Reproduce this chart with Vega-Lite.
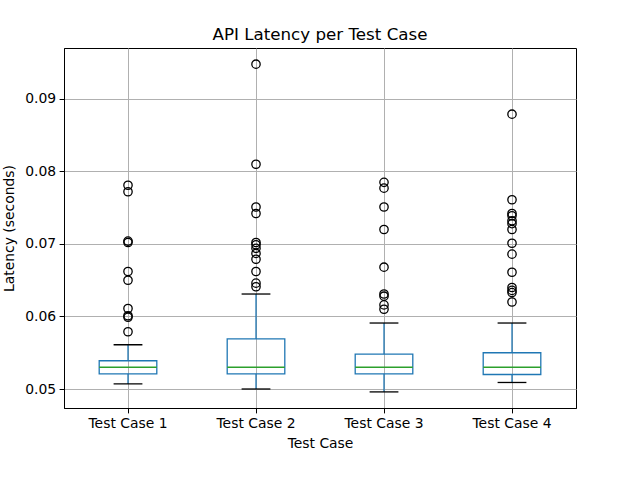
{
  "$schema": "https://vega.github.io/schema/vega-lite/v6.json",
  "width": 512,
  "height": 360,
  "autosize": "none",
  "padding": {"left": 64, "top": 48, "right": 64, "bottom": 72},
  "background": "white",
  "config": {
    "font": "DejaVu Sans",
    "view": {"stroke": "black", "strokeWidth": 1},
    "axis": {
      "labelFont": "DejaVu Sans",
      "labelFontSize": 13.9,
      "labelColor": "black",
      "titleFont": "DejaVu Sans",
      "titleFontSize": 13.9,
      "titleFontWeight": "normal",
      "titleColor": "black",
      "tickColor": "black",
      "tickSize": 4.9,
      "tickWidth": 1,
      "domainColor": "black",
      "domainWidth": 1,
      "gridColor": "#b0b0b0",
      "gridWidth": 1,
      "labelPadding": 3.5
    }
  },
  "title": {
    "text": "API Latency per Test Case",
    "font": "DejaVu Sans",
    "fontSize": 16.7,
    "fontWeight": "normal",
    "color": "black",
    "offset": 4
  },
  "datasets": {
    "boxes": [
      {"case": "Test Case 1", "lower": 0.0507, "q1": 0.0521, "median": 0.0530, "q3": 0.0539, "upper": 0.0561},
      {"case": "Test Case 2", "lower": 0.0500, "q1": 0.0521, "median": 0.0530, "q3": 0.0569, "upper": 0.0631},
      {"case": "Test Case 3", "lower": 0.0496, "q1": 0.0521, "median": 0.0530, "q3": 0.0548, "upper": 0.0591},
      {"case": "Test Case 4", "lower": 0.0509, "q1": 0.0520, "median": 0.0530, "q3": 0.0550, "upper": 0.0591}
    ],
    "outliers": [
      {"case": "Test Case 1", "latency": 0.0781},
      {"case": "Test Case 1", "latency": 0.0772},
      {"case": "Test Case 1", "latency": 0.0704},
      {"case": "Test Case 1", "latency": 0.0702},
      {"case": "Test Case 1", "latency": 0.0662},
      {"case": "Test Case 1", "latency": 0.0650},
      {"case": "Test Case 1", "latency": 0.0611},
      {"case": "Test Case 1", "latency": 0.0601},
      {"case": "Test Case 1", "latency": 0.0599},
      {"case": "Test Case 1", "latency": 0.0579},
      {"case": "Test Case 2", "latency": 0.0948},
      {"case": "Test Case 2", "latency": 0.0810},
      {"case": "Test Case 2", "latency": 0.0751},
      {"case": "Test Case 2", "latency": 0.0742},
      {"case": "Test Case 2", "latency": 0.0702},
      {"case": "Test Case 2", "latency": 0.0699},
      {"case": "Test Case 2", "latency": 0.0694},
      {"case": "Test Case 2", "latency": 0.0687},
      {"case": "Test Case 2", "latency": 0.0679},
      {"case": "Test Case 2", "latency": 0.0662},
      {"case": "Test Case 2", "latency": 0.0646},
      {"case": "Test Case 2", "latency": 0.0641},
      {"case": "Test Case 3", "latency": 0.0785},
      {"case": "Test Case 3", "latency": 0.0777},
      {"case": "Test Case 3", "latency": 0.0751},
      {"case": "Test Case 3", "latency": 0.0720},
      {"case": "Test Case 3", "latency": 0.0668},
      {"case": "Test Case 3", "latency": 0.0631},
      {"case": "Test Case 3", "latency": 0.0628},
      {"case": "Test Case 3", "latency": 0.0616},
      {"case": "Test Case 3", "latency": 0.0610},
      {"case": "Test Case 4", "latency": 0.0879},
      {"case": "Test Case 4", "latency": 0.0761},
      {"case": "Test Case 4", "latency": 0.0742},
      {"case": "Test Case 4", "latency": 0.0739},
      {"case": "Test Case 4", "latency": 0.0732},
      {"case": "Test Case 4", "latency": 0.0728},
      {"case": "Test Case 4", "latency": 0.0720},
      {"case": "Test Case 4", "latency": 0.0701},
      {"case": "Test Case 4", "latency": 0.0686},
      {"case": "Test Case 4", "latency": 0.0661},
      {"case": "Test Case 4", "latency": 0.0640},
      {"case": "Test Case 4", "latency": 0.0636},
      {"case": "Test Case 4", "latency": 0.0633},
      {"case": "Test Case 4", "latency": 0.0620}
    ]
  },
  "layer": [
    {
      "data": {"name": "boxes"},
      "mark": {"type": "rule", "color": "#1f77b4", "strokeWidth": 1.3},
      "encoding": {
        "x": {
          "field": "case", "type": "nominal",
          "scale": {"paddingInner": 0, "paddingOuter": 0},
          "axis": {"title": "Test Case", "labelAngle": 0, "grid": true, "bandPosition": 0.5, "titlePadding": 6}
        },
        "y": {
          "field": "lower", "type": "quantitative",
          "scale": {"domain": [0.04738, 0.09703], "nice": false, "zero": false},
          "axis": {"title": "Latency (seconds)", "values": [0.05, 0.06, 0.07, 0.08, 0.09], "format": ".2f", "grid": true, "titlePadding": 8}
        },
        "y2": {"field": "q1"}
      }
    },
    {
      "data": {"name": "boxes"},
      "mark": {"type": "rule", "color": "#1f77b4", "strokeWidth": 1.3},
      "encoding": {
        "x": {"field": "case", "type": "nominal"},
        "y": {"field": "q3", "type": "quantitative"},
        "y2": {"field": "upper"}
      }
    },
    {
      "data": {"name": "boxes"},
      "mark": {"type": "bar", "fill": null, "fillOpacity": 0, "stroke": "#1f77b4", "strokeWidth": 1.3, "width": {"band": 0.45}},
      "encoding": {
        "x": {"field": "case", "type": "nominal"},
        "y": {"field": "q1", "type": "quantitative"},
        "y2": {"field": "q3"}
      }
    },
    {
      "data": {"name": "boxes"},
      "mark": {"type": "tick", "color": "#2ca02c", "size": 57.6, "thickness": 1.3, "opacity": 1},
      "encoding": {
        "x": {"field": "case", "type": "nominal"},
        "y": {"field": "median", "type": "quantitative"}
      }
    },
    {
      "data": {"name": "boxes"},
      "mark": {"type": "tick", "color": "black", "size": 28.8, "thickness": 1.3, "opacity": 1},
      "encoding": {
        "x": {"field": "case", "type": "nominal"},
        "y": {"field": "lower", "type": "quantitative"}
      }
    },
    {
      "data": {"name": "boxes"},
      "mark": {"type": "tick", "color": "black", "size": 28.8, "thickness": 1.3, "opacity": 1},
      "encoding": {
        "x": {"field": "case", "type": "nominal"},
        "y": {"field": "upper", "type": "quantitative"}
      }
    },
    {
      "data": {"name": "outliers"},
      "mark": {"type": "point", "shape": "circle", "filled": false, "stroke": "black", "strokeWidth": 1.3, "size": 70, "opacity": 1},
      "encoding": {
        "x": {"field": "case", "type": "nominal"},
        "y": {"field": "latency", "type": "quantitative"}
      }
    }
  ]
}
